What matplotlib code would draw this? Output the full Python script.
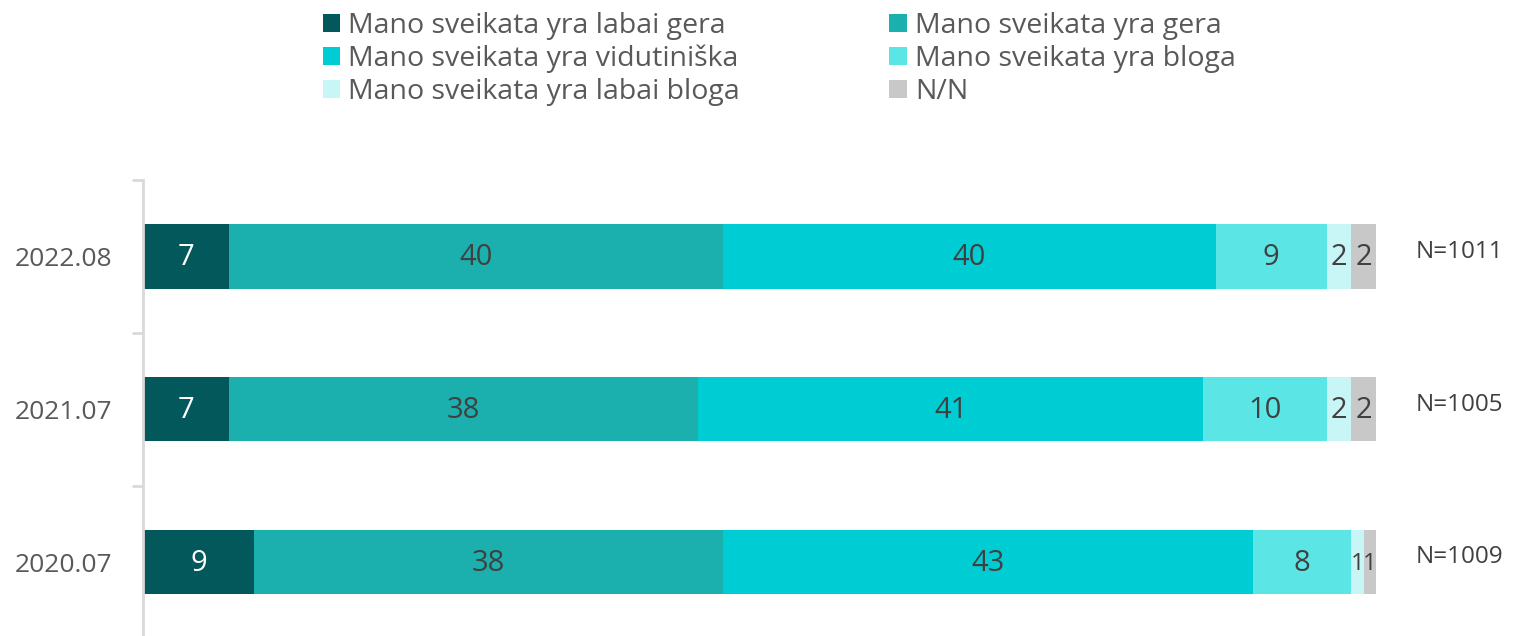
import matplotlib
matplotlib.use("Agg")
import matplotlib.pyplot as plt
from matplotlib.patches import Patch
import numpy as np

categories = ["2020.07", "2021.07", "2022.08"]
series_names = [
    "Mano sveikata yra labai gera",
    "Mano sveikata yra gera",
    "Mano sveikata yra vidutiniška",
    "Mano sveikata yra bloga",
    "Mano sveikata yra labai bloga",
    "N/N",
]
labai_gera = [9, 7, 7]
gera = [38, 38, 40]
vidutiniska = [43, 41, 40]
bloga = [8, 10, 9]
labai_bloga = [1, 2, 2]
nn = [1, 2, 2]
n_labels = ["N=1009", "N=1005", "N=1011"]

series = [labai_gera, gera, vidutiniska, bloga, labai_bloga, nn]
colors = ["#03585C", "#1BB0AE", "#00CCD3", "#5CE5E5", "#C8F5F5", "#C8C8C8"]
label_colors = ["white", "#404040", "#404040", "#404040", "#404040", "#404040"]

FONT = ['Open Sans', 'DejaVu Sans']
plt.rcParams['font.family'] = FONT

W, H = 1514, 636
fig = plt.figure(figsize=(W / 100, H / 100), dpi=100)
ax = fig.add_axes([143 / W, (636 - 638.5) / H, (1376 - 143) / W, (638.5 - 180) / H])

y = np.arange(len(categories))
left = np.zeros(len(categories))
for vals, col, lc in zip(series, colors, label_colors):
    vals = np.array(vals, dtype=float)
    ax.barh(y, vals, left=left, height=0.42, color=col, edgecolor="none")
    for yi, l, v in zip(y, left, vals):
        fs = 21 if v >= 2 else 17
        ax.text(l + v / 2, yi - 0.01, f"{int(v)}", ha="center", va="center",
                color=lc, fontsize=fs)
    left += vals

for yi, nl in zip(y, n_labels):
    ax.text(103.2, yi + 0.03, nl, ha="left", va="center", color="#404040", fontsize=17.5)

ax.set_xlim(0, 100)
ax.set_ylim(-0.5, 2.5)
ax.set_yticks(y)
ax.set_yticklabels(categories, fontsize=19, color="#595959")
ax.set_yticks([-0.5, 0.5, 1.5, 2.5], minor=True)
ax.tick_params(axis="y", which="major", length=0, pad=22)
ax.tick_params(axis="y", which="minor", length=8, width=2, color="#D9D9D9")
ax.set_xticks([])
for s in ["top", "right", "bottom"]:
    ax.spines[s].set_visible(False)
ax.spines["left"].set_color("#D9D9D9")
ax.spines["left"].set_linewidth(2)

# matplotlib fills legend columns first; reorder so entries run row-wise
order = [0, 2, 4, 1, 3, 5]
handles = [Patch(facecolor=colors[i], edgecolor="none") for i in order]
labels = [series_names[i] for i in order]
fig.legend(handles, labels, loc="upper left", ncol=2,
           bbox_to_anchor=(297 / W, 1 + 14 / H), frameon=False,
           handlelength=0.6, handleheight=0.6, handletextpad=0.3,
           labelspacing=0.18, columnspacing=5.25,
           labelcolor="#595959", prop={"size": 20.5})

fig.savefig("out.png", dpi=100)
